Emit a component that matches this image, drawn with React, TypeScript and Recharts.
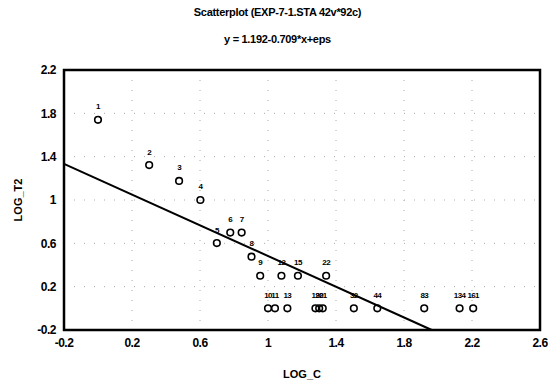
import { ScatterChart, Scatter, XAxis, YAxis, CartesianGrid, ReferenceLine, ReferenceArea, LabelList, Label } from 'recharts'

// case numbers shown above each marker
const caseIds = ['1', '2', '3', '4', '5', '6', '7', '8', '9', '10', '11', '12', '13', '15', '19', '20', '21', '22', '32', '44', '83', '134', '161']
const logC = [0, 0.301, 0.477, 0.602, 0.699, 0.778, 0.845, 0.903, 0.954, 1.0, 1.041, 1.079, 1.114, 1.176, 1.279, 1.301, 1.322, 1.342, 1.505, 1.643, 1.919, 2.127, 2.207]
const logT2 = [1.74, 1.322, 1.176, 1.0, 0.602, 0.699, 0.699, 0.477, 0.301, 0, 0, 0.301, 0, 0.301, 0, 0, 0, 0.301, 0, 0, 0, 0, 0]

const xTicks = [-0.2, 0.2, 0.6, 1, 1.4, 1.8, 2.2, 2.6]
const yTicks = [-0.2, 0.2, 0.6, 1, 1.4, 1.8, 2.2]

// fitted line y = 1.192 - 0.709*x
const intercept = 1.192
const slope = -0.709

const points = caseIds.map((id, i) => ({ id, x: logC[i], y: logT2[i] }))

const FONT = 'Arial, "Liberation Sans", sans-serif'
const tickStyle = { fill: '#000', fontSize: 12, fontWeight: 'bold', fontFamily: FONT, letterSpacing: -0.5 }
const fmt = (v: number) => String(Math.round(v * 10) / 10)

// regression segment clipped to the plot frame
const x0 = -0.2
const yAtX0 = intercept + slope * x0
const yMin = -0.2
const xAtYMin = (yMin - intercept) / slope

function OpenCircle(props: { cx?: number; cy?: number }) {
  const { cx = 0, cy = 0 } = props
  return <circle cx={cx} cy={cy} r={3.3} fill="none" stroke="#000" strokeWidth={1.6} />
}

export default function App() {
  return (
    <div style={{ position: 'absolute', left: 0, top: 0, width: 555, height: 386, background: '#fff', fontFamily: FONT }}>
      <div style={{ position: 'absolute', top: 6, width: 555, textAlign: 'center', fontSize: 11, fontWeight: 'bold', letterSpacing: -0.3 }}>
        Scatterplot (EXP-7-1.STA 42v*92c)
      </div>
      <div style={{ position: 'absolute', top: 33, width: 555, textAlign: 'center', fontSize: 11, fontWeight: 'bold', letterSpacing: -0.3 }}>
        y = 1.192-0.709*x+eps
      </div>
      <ScatterChart width={555} height={386} margin={{ top: 70, right: 15, bottom: 26, left: 0 }}>
        <CartesianGrid stroke="#aaa" strokeDasharray="1 9" />
        <XAxis
          type="number"
          dataKey="x"
          domain={[-0.2, 2.6]}
          ticks={xTicks}
          tickFormatter={fmt}
          axisLine={false}
          tickLine={false}
          tick={tickStyle}
          height={30}
          allowDataOverflow
        >
          <Label value="LOG_C" position="bottom" offset={10} style={{ fill: '#000', fontSize: 11, fontWeight: 'bold', fontFamily: FONT }} />
        </XAxis>
        <YAxis
          type="number"
          dataKey="y"
          domain={[-0.2, 2.2]}
          ticks={yTicks}
          tickFormatter={fmt}
          axisLine={false}
          tickLine={false}
          tick={tickStyle}
          width={64}
          allowDataOverflow
        >
          <Label value="LOG_T2" angle={-90} position="insideLeft" offset={18} style={{ fill: '#000', fontSize: 11, fontWeight: 'bold', fontFamily: FONT, textAnchor: 'middle' }} />
        </YAxis>
        <ReferenceArea x1={-0.2} x2={2.6} y1={-0.2} y2={2.2} fill="none" stroke="#000" strokeWidth={2.5} />
        <ReferenceLine
          segment={[{ x: x0, y: yAtX0 }, { x: xAtYMin, y: yMin }]}
          stroke="#000"
          strokeWidth={2}
        />
        <Scatter data={points} shape={<OpenCircle />} isAnimationActive={false}>
          <LabelList dataKey="id" position="top" offset={6} fill="#000" style={{ fill: '#000', fontSize: 8, fontWeight: 'bold', fontFamily: FONT, letterSpacing: -0.6 }} />
        </Scatter>
      </ScatterChart>
    </div>
  )
}
